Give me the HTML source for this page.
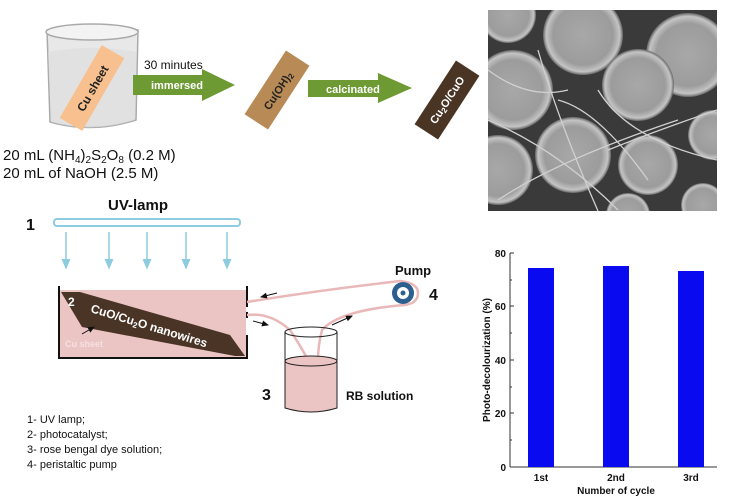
<!DOCTYPE html>
<html><head><meta charset="utf-8"><style>
html,body{margin:0;padding:0;background:#fff;width:731px;height:502px;overflow:hidden}
svg{display:block;font-family:"Liberation Sans",Arial,sans-serif}
</style></head><body>
<svg width="731" height="502" viewBox="0 0 731 502" xmlns="http://www.w3.org/2000/svg">
<defs>
<marker id="ab" markerWidth="8" markerHeight="8" refX="6" refY="4" orient="auto"><path d="M0,1 L7,4 L0,7 Z" fill="#8ccbe0"/></marker>
<marker id="ak" markerWidth="8" markerHeight="8" refX="6" refY="4" orient="auto"><path d="M0,1 L7,4 L0,7 Z" fill="#111"/></marker>
<radialGradient id="blob"><stop offset="0" stop-color="#a8a8a8"/><stop offset="0.75" stop-color="#9c9c9c"/><stop offset="0.92" stop-color="#c4c4c4"/><stop offset="1" stop-color="#666"/></radialGradient>
</defs>

<!-- beaker -->
<path d="M47,30 Q90,20 138,30 L136,120 Q92,134 50,122 Z" fill="#e8e8e8" stroke="#aaa" stroke-width="1.5"/>
<ellipse cx="92" cy="32" rx="46" ry="8" fill="#f3f3f3" stroke="#aaa" stroke-width="1.5"/>
<path d="M48,52 Q92,44 136,52 L135,120 Q92,134 51,122 Z" fill="#dcdcdc" opacity="0.6"/>
<g transform="translate(92,88) rotate(-60)">
<rect x="-42" y="-13" width="84" height="26" fill="#f8c08e"/>
<text x="0" y="5" font-size="12" font-weight="bold" text-anchor="middle" fill="#222">Cu sheet</text>
</g>
<text x="3" y="160" font-size="15" fill="#111">20 mL (NH<tspan font-size="10" dy="3">4</tspan><tspan dy="-3">)</tspan><tspan font-size="10" dy="3">2</tspan><tspan dy="-3">S</tspan><tspan font-size="10" dy="3">2</tspan><tspan dy="-3">O</tspan><tspan font-size="10" dy="3">8</tspan><tspan dy="-3"> (0.2 M)</tspan></text>
<text x="3" y="178" font-size="15" fill="#111">20 mL of NaOH (2.5 M)</text>

<!-- arrow 1 -->
<text x="144" y="69" font-size="12" fill="#111">30 minutes</text>
<path d="M133,75 L202,75 L202,69 L235,85 L202,101 L202,95 L133,95 Z" fill="#6e9a33"/>
<text x="151" y="89" font-size="11" font-weight="bold" fill="#fff">immersed</text>
<g transform="translate(277,90) rotate(-57)">
<rect x="-38" y="-14" width="76" height="28" fill="#b88a55"/>
<text x="0" y="5" font-size="11" font-weight="bold" text-anchor="middle" fill="#222">Cu(OH)<tspan font-size="8" dy="2">2</tspan></text>
</g>
<path d="M308,80 L378,80 L378,73 L412,88 L378,103 L378,97 L308,97 Z" fill="#6e9a33"/>
<text x="326" y="93" font-size="11" font-weight="bold" fill="#fff">calcinated</text>
<g transform="translate(447,100) rotate(-57)">
<rect x="-38" y="-14" width="76" height="28" fill="#4a3524"/>
<text x="0" y="4" font-size="11" font-weight="bold" text-anchor="middle" fill="#fff">Cu<tspan font-size="8" dy="2">2</tspan><tspan dy="-2">O/CuO</tspan></text>
</g>

<!-- SEM image -->
<svg x="488" y="10" width="229" height="201" viewBox="0 0 229 201">
<rect width="229" height="201" fill="#3a3a3a"/>
<g>
<circle cx="20" cy="5" r="28" fill="url(#blob)"/>
<circle cx="95" cy="25" r="40" fill="url(#blob)"/>
<circle cx="200" cy="45" r="42" fill="url(#blob)"/>
<circle cx="150" cy="75" r="36" fill="url(#blob)"/>
<circle cx="25" cy="80" r="40" fill="url(#blob)"/>
<circle cx="10" cy="160" r="35" fill="url(#blob)"/>
<circle cx="85" cy="145" r="38" fill="url(#blob)"/>
<circle cx="160" cy="155" r="30" fill="url(#blob)"/>
<circle cx="225" cy="125" r="25" fill="url(#blob)"/>
<circle cx="140" cy="205" r="22" fill="url(#blob)"/>
<circle cx="215" cy="195" r="22" fill="url(#blob)"/>
</g>
<g stroke="#d0d0d0" stroke-width="1.3" fill="none">
<path d="M0,110 Q70,140 130,200"/><path d="M50,40 Q70,110 110,201"/><path d="M110,80 Q140,130 229,150"/><path d="M10,190 Q70,150 190,110"/><path d="M70,90 Q110,100 160,170"/><path d="M0,60 Q40,90 80,80"/><path d="M120,140 Q170,120 229,100"/>
</g>
</svg>

<!-- UV lamp -->
<text x="108" y="210" font-size="15" font-weight="bold" fill="#111">UV-lamp</text>
<text x="26" y="230" font-size="16" font-weight="bold" fill="#111">1</text>
<rect x="54" y="219" width="186" height="7" rx="3" fill="#fff" stroke="#8ccbe0" stroke-width="2"/>
<g stroke="#8ccbe0" stroke-width="1.5">
<line x1="66" y1="232" x2="66" y2="268" marker-end="url(#ab)"/><line x1="109" y1="232" x2="109" y2="268" marker-end="url(#ab)"/><line x1="147" y1="232" x2="147" y2="268" marker-end="url(#ab)"/><line x1="186" y1="232" x2="186" y2="268" marker-end="url(#ab)"/><line x1="227" y1="232" x2="227" y2="268" marker-end="url(#ab)"/>
</g>

<!-- tank -->
<rect x="59" y="290" width="187" height="67" fill="#ebc4c4"/>
<path d="M59,286 L59,358 L247,358 L247,335 M247,307 L247,286" stroke="#111" stroke-width="2" fill="none"/>
<line x1="247" y1="312" x2="247" y2="318" stroke="#111" stroke-width="2"/>
<polygon points="61,292 80,292 230,335 245,356 235,356 82,327" fill="#4a3426"/>
<text x="68" y="306" font-size="12" font-weight="bold" fill="#fff">2</text>
<text transform="translate(90,312) rotate(17)" font-size="12" font-weight="bold" fill="#fff">CuO/Cu<tspan font-size="8" dy="2">2</tspan><tspan dy="-2">O nanowires</tspan></text>
<text x="65" y="347" font-size="9" font-weight="bold" fill="#f6e0e0">Cu sheet</text>
<line x1="82" y1="334" x2="94" y2="327" stroke="#111" stroke-width="1" marker-end="url(#ak)"/>

<!-- tubes -->
<g stroke="#e9b8b8" stroke-width="2.5" fill="none">
<path d="M247,302 Q320,290 400,281 Q418,283 418,293 Q418,303 405,305 Q340,310 322,330 Q318,345 318,360"/>
<path d="M247,315 Q270,312 290,330 Q300,345 308,360"/>
</g>
<g stroke="#111" stroke-width="1">
<line x1="277" y1="293" x2="261" y2="297" marker-end="url(#ak)"/>
<line x1="253" y1="321" x2="268" y2="325" marker-end="url(#ak)"/>
<line x1="332" y1="325" x2="352" y2="316" marker-end="url(#ak)"/>
</g>
<circle cx="403" cy="293" r="11" fill="#2d5f8e"/>
<circle cx="403" cy="293" r="6" fill="#fff"/>
<circle cx="403" cy="293" r="2.5" fill="#2d5f8e"/>
<text x="395" y="275" font-size="13" font-weight="bold" fill="#111">Pump</text>
<text x="429" y="300" font-size="16" font-weight="bold" fill="#111">4</text>

<!-- beaker 3 -->
<path d="M285,360 L285,408 Q311,416 337,408 L337,360 Z" fill="#ebc4c4"/>
<ellipse cx="311" cy="361" rx="26" ry="5" fill="#ebc4c4" stroke="#222" stroke-width="1"/>
<path d="M285,332 L285,408 Q311,416 337,408 L337,332" fill="none" stroke="#222" stroke-width="1"/>
<ellipse cx="311" cy="332" rx="26" ry="5" fill="none" stroke="#222" stroke-width="1"/>
<text x="262" y="400" font-size="16" font-weight="bold" fill="#111">3</text>
<text x="346" y="400" font-size="12" font-weight="bold" fill="#111">RB solution</text>

<g font-size="11" fill="#111">
<text x="27" y="423">1- UV lamp;</text>
<text x="27" y="438">2- photocatalyst;</text>
<text x="27" y="453">3- rose bengal dye solution;</text>
<text x="27" y="468">4- peristaltic pump</text>
</g>

<!-- chart -->
<g stroke="#333" stroke-width="1">
<line x1="510" y1="253" x2="510" y2="467"/>
<line x1="510" y1="467" x2="717" y2="467"/>
<line x1="510" y1="253" x2="514" y2="253"/><line x1="510" y1="306" x2="514" y2="306"/><line x1="510" y1="360" x2="514" y2="360"/><line x1="510" y1="413" x2="514" y2="413"/>
<line x1="510" y1="280" x2="512" y2="280"/><line x1="510" y1="333" x2="512" y2="333"/><line x1="510" y1="387" x2="512" y2="387"/><line x1="510" y1="440" x2="512" y2="440"/>
</g>
<g font-size="10" font-weight="bold" fill="#111" text-anchor="end">
<text x="506" y="257">80</text><text x="506" y="310">60</text><text x="506" y="364">40</text><text x="506" y="417">20</text><text x="506" y="471">0</text>
</g>
<rect x="528" y="268" width="26" height="199" fill="#0a0af0"/>
<rect x="603" y="266" width="26" height="201" fill="#0a0af0"/>
<rect x="678" y="271" width="26" height="196" fill="#0a0af0"/>
<g font-size="10" font-weight="bold" fill="#111" text-anchor="middle">
<text x="541" y="481">1st</text><text x="616" y="481">2nd</text><text x="691" y="481">3rd</text>
<text x="616" y="494">Number of cycle</text>
<text transform="translate(490,360) rotate(-90)">Photo-decolourization (%)</text>
</g>
</svg>
</body></html>
